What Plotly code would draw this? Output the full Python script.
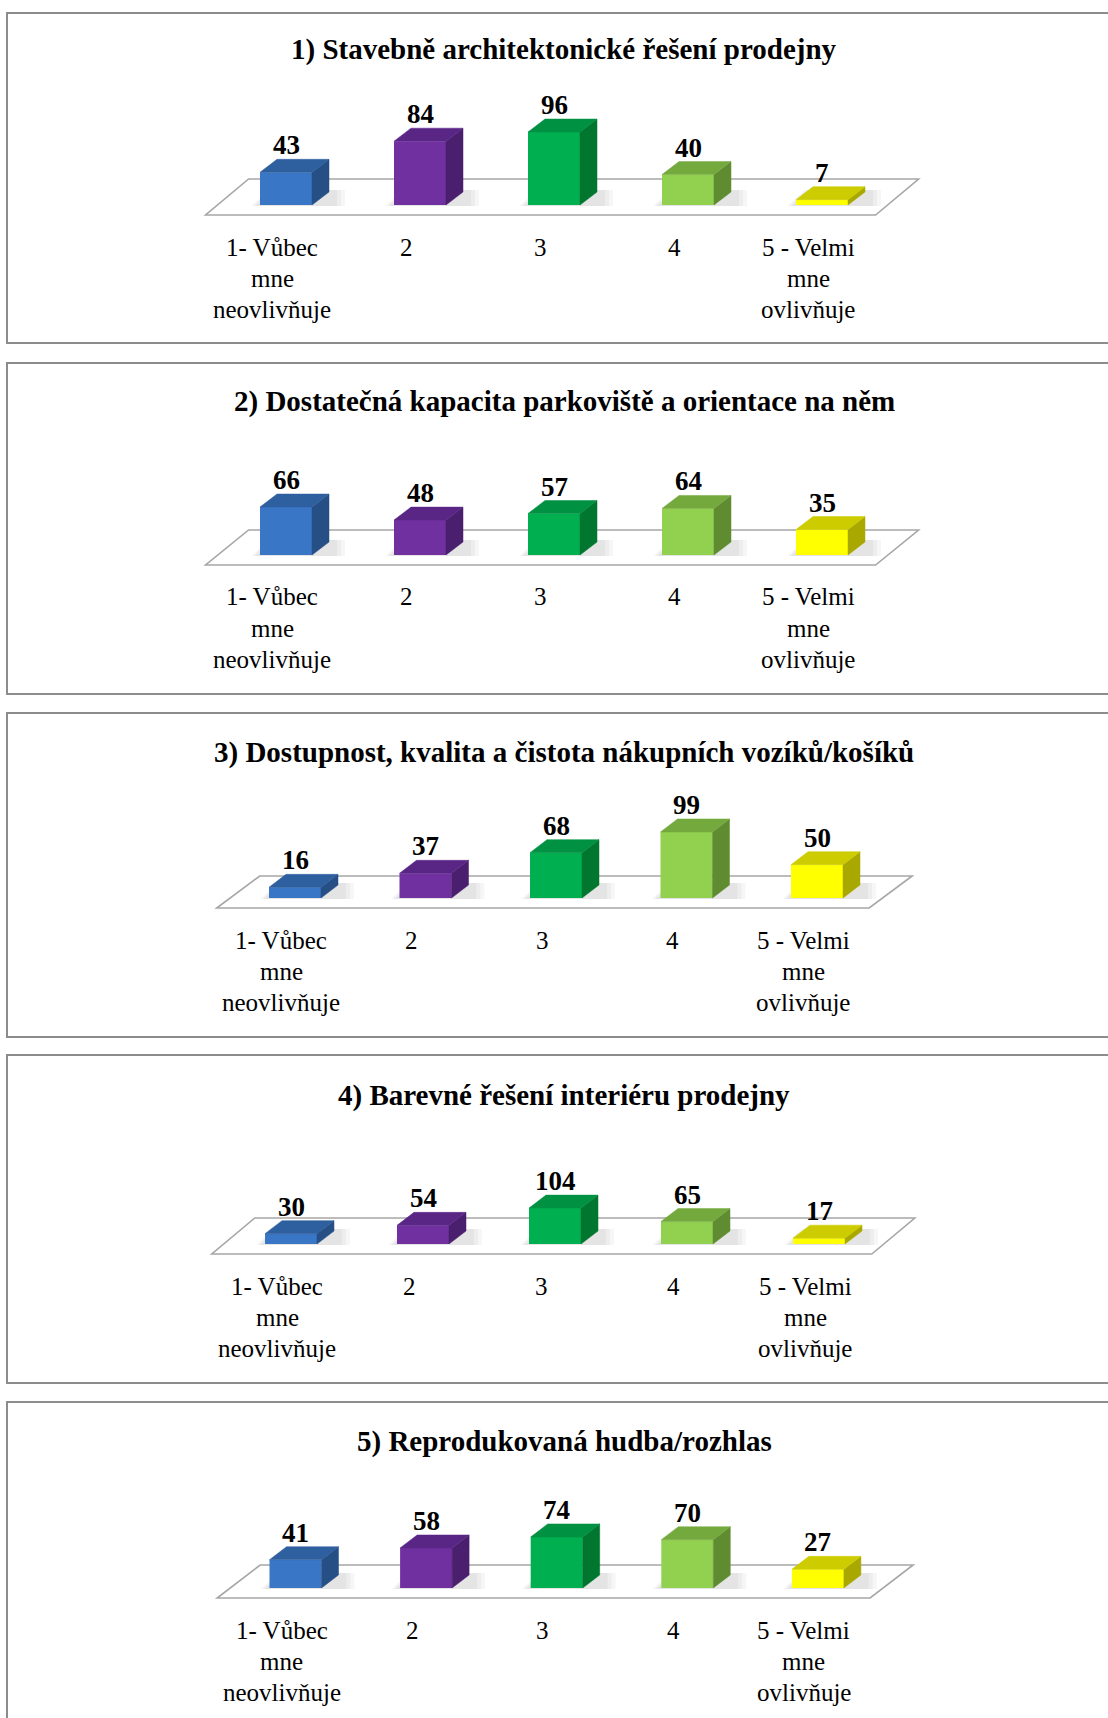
import plotly.graph_objects as go

# ---------------- data ----------------
categories = ["1- Vůbec<br>mne<br>neovlivňuje", "2", "3", "4", "5 - Velmi<br>mne<br>ovlivňuje"]
titles = [
    "1) Stavebně architektonické řešení prodejny",
    "2) Dostatečná kapacita parkoviště a orientace na něm",
    "3) Dostupnost, kvalita a čistota nákupních vozíků/košíků",
    "4) Barevné řešení interiéru prodejny",
    "5) Reprodukovaná hudba/rozhlas",
]
values_1 = [43, 84, 96, 40, 7]
values_2 = [66, 48, 57, 64, 35]
values_3 = [16, 37, 68, 99, 50]
values_4 = [30, 54, 104, 65, 17]
values_5 = [41, 58, 74, 70, 27]

# ---------------- style ----------------
front_colors = ["#3a76c6", "#7030a0", "#00b050", "#92d050", "#ffff00"]
top_colors = ["#2e5f9f", "#5a2686", "#009143", "#74a93e", "#cccc00"]
side_colors = ["#264f86", "#4a1f6e", "#00762f", "#5f8c30", "#a8a800"]

W, H = 1108, 1718
FONT = "Liberation Serif"

# pixel layout of each panel (box, title, bar base line, px per unit, first bar centre, spacing, floor depth)
panels = [
    dict(values=values_1, box=(13, 343), title_y=50, base=205, scale=0.76, c0=286, sp=134, depth=36),
    dict(values=values_2, box=(363, 694), title_y=401, base=555, scale=0.727, c0=286, sp=134, depth=35),
    dict(values=values_3, box=(713, 1037), title_y=752, base=898, scale=0.667, c0=295, sp=130.5, depth=32),
    dict(values=values_4, box=(1055, 1383), title_y=1095, base=1244, scale=0.345, c0=291, sp=132, depth=36),
    dict(values=values_5, box=(1402, 1730), title_y=1441, base=1588, scale=0.69, c0=295.5, sp=130.6, depth=33),
]

BAR_W = 52      # px
SIDE_DX = 17    # px
SIDE_DY = 13    # px
FLOOR_DX = 43   # px
DOM_X = (150, 1000)
UP, DOWN = 150, 20
LINE_H = 31

fig = go.Figure()
shapes = []
annotations = []
layout_axes = {}

for k, p in enumerate(panels, start=1):
    xa = "x" if k == 1 else f"x{k}"
    ya = "y" if k == 1 else f"y{k}"
    xname = "xaxis" if k == 1 else f"xaxis{k}"
    yname = "yaxis" if k == 1 else f"yaxis{k}"
    vals = p["values"]
    n = len(vals)
    idx = list(range(n))
    sp, sc, base = p["sp"], p["scale"], p["base"]

    layout_axes[xname] = dict(
        domain=[DOM_X[0] / W, DOM_X[1] / W],
        range=[(DOM_X[0] - p["c0"]) / sp, (DOM_X[1] - p["c0"]) / sp],
        visible=False, fixedrange=True, anchor=ya,
    )
    layout_axes[yname] = dict(
        domain=[1 - (base + DOWN) / H, 1 - (base - UP) / H],
        range=[-DOWN / sc, UP / sc],
        visible=False, fixedrange=True, anchor=xa,
    )

    bw = BAR_W / sp
    dx = SIDE_DX / sp
    dy = SIDE_DY / sc

    # floor (parallelogram)
    fy0 = -10 / sc
    fy1 = (p["depth"] - 10) / sc
    fdx = FLOOR_DX / sp
    fl, fr = -0.6, n - 0.6
    shapes.append(dict(
        type="path", xref=xa, yref=ya, layer="below",
        path=f"M {fl},{fy0} L {fr},{fy0} L {fr+fdx},{fy1} L {fl+fdx},{fy1} Z",
        fillcolor="white", line=dict(color="#a6a6a6", width=1.6),
    ))
    # soft shadows on the floor
    for i in idx:
        for g in range(3):
            e = 0.04 * (3 - g) / sp * 100
            shapes.append(dict(
                type="path", xref=xa, yref=ya, layer="below",
                path=(f"M {i-bw/2-0.02-e*0.5},{-1/sc} L {i+bw/2+dx+0.03+e},{-1/sc} "
                      f"L {i+bw/2+dx+0.03+e},{dy+2/sc} L {i-bw/2+dx-0.02-e*0.5},{dy+2/sc} Z"),
                fillcolor="rgba(0,0,0,0.035)", line=dict(width=0),
            ))

    # front faces
    fig.add_trace(go.Bar(
        x=idx, y=vals, width=bw, marker=dict(color=front_colors, line=dict(width=0)),
        xaxis=xa, yaxis=ya, showlegend=False, hoverinfo="skip",
    ))
    # top and side faces
    for i, v in zip(idx, vals):
        xl, xr = i - bw / 2, i + bw / 2
        fig.add_trace(go.Scatter(
            x=[xr, xr + dx, xr + dx, xr, xr], y=[0, dy, v + dy, v, 0],
            fill="toself", fillcolor=side_colors[i], mode="lines",
            line=dict(width=0.5, color=side_colors[i]),
            xaxis=xa, yaxis=ya, showlegend=False, hoverinfo="skip",
        ))
        fig.add_trace(go.Scatter(
            x=[xl, xr, xr + dx, xl + dx, xl], y=[v, v, v + dy, v + dy, v],
            fill="toself", fillcolor=top_colors[i], mode="lines",
            line=dict(width=0.5, color=top_colors[i]),
            xaxis=xa, yaxis=ya, showlegend=False, hoverinfo="skip",
        ))
        # value label
        annotations.append(dict(
            x=i, y=v, xref=xa, yref=ya, text=f"<b>{v}</b>", showarrow=False,
            yanchor="bottom", xanchor="center", yshift=10,
            font=dict(family=FONT, size=27, color="black"),
        ))

    # category labels (one annotation per line for exact line spacing)
    for i, c in enumerate(categories):
        for j, line in enumerate(c.split("<br>")):
            annotations.append(dict(
                x=i, xref=xa, xshift=-14, y=1 - (base + 42 + LINE_H * j) / H, yref="paper",
                text=line, showarrow=False, xanchor="center", yanchor="middle",
                font=dict(family=FONT, size=25, color="black"),
            ))

    # title
    annotations.append(dict(
        x=564 / W, y=1 - p["title_y"] / H, xref="paper", yref="paper",
        text=f"<b>{titles[k-1]}</b>", showarrow=False, xanchor="center", yanchor="middle",
        font=dict(family=FONT, size=29, color="black"),
    ))

    # panel frame
    b0, b1 = p["box"]
    shapes.append(dict(
        type="rect", xref="paper", yref="paper", layer="below",
        x0=7 / W, x1=1.02, y0=1 - b1 / H, y1=1 - b0 / H,
        line=dict(color="#8c8c8c", width=2), fillcolor="rgba(0,0,0,0)",
    ))

fig.update_layout(
    width=W, height=H, margin=dict(l=0, r=0, t=0, b=0),
    paper_bgcolor="white", plot_bgcolor="rgba(0,0,0,0)",
    shapes=shapes, annotations=annotations, showlegend=False,
    **layout_axes,
)

fig.write_html("out.html")
